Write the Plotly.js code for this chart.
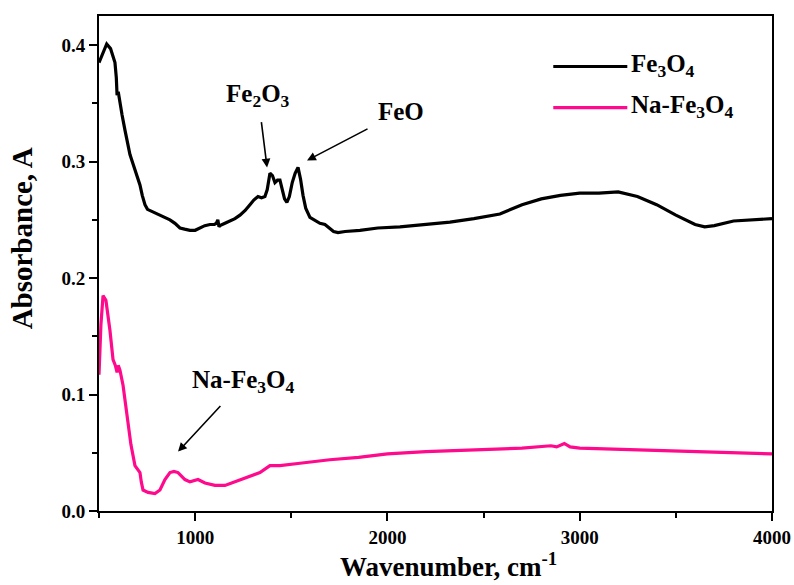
<!DOCTYPE html>
<html>
<head>
<meta charset="utf-8">
<script src="https://cdn.plot.ly/plotly-3.0.1.min.js"></script>
<style>html,body{margin:0;padding:0;background:#fff}#chart{width:794px;height:585px}</style>
</head>
<body>
<div id="chart"></div>
<script>
var seriesNames = ['Fe<sub>3</sub>O<sub>4</sub>', 'Na-Fe<sub>3</sub>O<sub>4</sub>'];
var fe3o4X = [500,520,540,560,583,590,594,600,609,620,635,650,661,675,687,700,713,725,739,752,765,790,817,845,869,895,921,945,973,1000,1025,1050,1077,1100,1110,1118,1124,1129,1155,1181,1207,1233,1260,1285,1305,1327,1345,1363,1375,1389,1402,1415,1428,1441,1455,1465,1477,1490,1505,1520,1535,1548,1561,1575,1597,1620,1649,1675,1701,1720,1743,1780,1857,1950,2065,2200,2325,2450,2585,2700,2800,2900,3000,3100,3200,3300,3400,3500,3600,3650,3700,3800,3900,4000];
var fe3o4Y = [0.385,0.393,0.401,0.397,0.385,0.372,0.357,0.360,0.349,0.340,0.327,0.315,0.306,0.299,0.293,0.287,0.280,0.271,0.263,0.259,0.258,0.256,0.254,0.252,0.250,0.247,0.243,0.242,0.241,0.241,0.243,0.245,0.246,0.246,0.247,0.250,0.244,0.245,0.247,0.249,0.251,0.254,0.258,0.263,0.267,0.270,0.269,0.270,0.276,0.290,0.288,0.282,0.284,0.284,0.276,0.268,0.265,0.270,0.282,0.290,0.295,0.285,0.271,0.260,0.252,0.250,0.247,0.246,0.243,0.240,0.239,0.240,0.241,0.243,0.244,0.246,0.248,0.251,0.255,0.263,0.268,0.271,0.273,0.273,0.274,0.270,0.263,0.254,0.246,0.244,0.245,0.249,0.250,0.251];
var naX = [500,510,521,536,557,573,585,594,600,609,625,646,666,687,700,713,720,729,755,791,817,843,869,890,911,930,947,973,1015,1051,1103,1155,1233,1337,1389,1441,1545,1700,1850,2000,2200,2500,2700,2850,2880,2920,2950,3000,3200,3500,3800,4000];
var naY = [0.117,0.160,0.185,0.181,0.155,0.130,0.125,0.119,0.125,0.121,0.108,0.082,0.057,0.039,0.036,0.033,0.025,0.018,0.016,0.015,0.018,0.027,0.033,0.034,0.033,0.030,0.027,0.025,0.027,0.024,0.022,0.022,0.027,0.033,0.039,0.039,0.041,0.044,0.046,0.049,0.051,0.053,0.054,0.056,0.055,0.058,0.055,0.054,0.053,0.052,0.050,0.049];
var xTicks = [1000,2000,3000,4000];
var yTicks = [0.0,0.1,0.2,0.3,0.4];
var xTitle = 'Wavenumber, cm<sup>-1</sup>';
var yTitle = 'Absorbance, A';
var colors = ['#000000', '#ff0a8c'];

var F = 'Liberation Serif, Times New Roman, serif';
var traces = [
  {x: fe3o4X, y: fe3o4Y, type: 'scatter', mode: 'lines', name: seriesNames[0], line: {color: colors[0], width: 3.2}},
  {x: naX, y: naY, type: 'scatter', mode: 'lines', name: seriesNames[1], line: {color: colors[1], width: 3.2}}
];

var annFont = {family: F, size: 25, color: '#000', weight: 'bold'};
var arrowStyle = {showarrow: true, axref: 'x', ayref: 'y', arrowhead: 2, arrowsize: 1.1, arrowwidth: 1.6, arrowcolor: '#000', startstandoff: 10};
function arrowAnn(o) { var r = {}; for (var k in arrowStyle) r[k] = arrowStyle[k]; for (var k2 in o) r[k2] = o[k2]; r.font = annFont; return r; }
var layout = {
  width: 794, height: 585,
  margin: {l: 99, r: 22, t: 16, b: 74},
  paper_bgcolor: '#fff', plot_bgcolor: '#fff',
  showlegend: false,
  xaxis: {
    range: [500, 4000], tickvals: xTicks, ticktext: xTicks.map(String),
    ticks: 'outside', ticklen: 8, tickwidth: 2, tickcolor: '#000',
    minor: {dtick: 500, tick0: 500, ticks: 'outside', ticklen: 5, tickwidth: 2, tickcolor: '#000', showgrid: false},
    showline: true, linewidth: 2, linecolor: '#000', mirror: true, showgrid: false, zeroline: false,
    tickfont: {family: F, size: 19, color: '#000', weight: 'bold'}
  },
  yaxis: {
    range: [0, 0.425], tickvals: yTicks, ticktext: yTicks.map(function(v){return v.toFixed(1);}),
    ticks: 'outside', ticklen: 8, tickwidth: 2, tickcolor: '#000',
    minor: {dtick: 0.05, tick0: 0, ticks: 'outside', ticklen: 5, tickwidth: 2, tickcolor: '#000', showgrid: false},
    showline: true, linewidth: 2, linecolor: '#000', mirror: true, showgrid: false, zeroline: false,
    tickfont: {family: F, size: 19, color: '#000', weight: 'bold'}
  },
  shapes: [
    {type: 'line', xref: 'paper', yref: 'paper', x0: 0.675, x1: 0.785, y0: 0.898, y1: 0.898, line: {color: colors[0], width: 3.2}},
    {type: 'line', xref: 'paper', yref: 'paper', x0: 0.675, x1: 0.785, y0: 0.815, y1: 0.815, line: {color: colors[1], width: 3.2}}
  ],
  annotations: [
    {xref: 'paper', yref: 'paper', x: 0.52, y: -0.148, xanchor: 'center', yanchor: 'bottom', text: xTitle, showarrow: false, font: {family: F, size: 27, color: '#000', weight: 'bold'}},
    {xref: 'paper', yref: 'paper', x: -0.115, y: 0.55, xanchor: 'center', yanchor: 'middle', textangle: -90, text: yTitle, showarrow: false, font: {family: F, size: 29, color: '#000', weight: 'bold'}},
    {xref: 'paper', yref: 'paper', x: 0.787, y: 0.9, xanchor: 'left', yanchor: 'middle', text: seriesNames[0], showarrow: false, font: annFont},
    {xref: 'paper', yref: 'paper', x: 0.787, y: 0.817, xanchor: 'left', yanchor: 'middle', text: seriesNames[1], showarrow: false, font: annFont},
    arrowAnn({text: 'Fe<sub>2</sub>O<sub>3</sub>', ax: 1327, ay: 0.357, x: 1374, y: 0.295}),
    arrowAnn({text: 'FeO', ax: 2070, ay: 0.343, x: 1582, y: 0.301}),
    arrowAnn({text: 'Na-Fe<sub>3</sub>O<sub>4</sub>', ax: 1249, ay: 0.111, x: 911, y: 0.051})
  ]
};
Plotly.newPlot('chart', traces, layout, {displayModeBar: false, staticPlot: true});
</script>
</body>
</html>
